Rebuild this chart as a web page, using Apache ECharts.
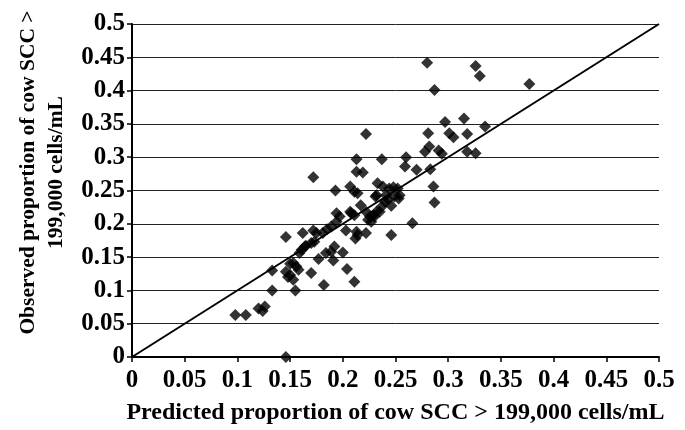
<!DOCTYPE html>
<html>
<head>
<meta charset="utf-8">
<script src="https://cdn.jsdelivr.net/npm/echarts@6/dist/echarts.min.js"></script>
<style>
  html, body { margin: 0; padding: 0; background: #fff; }
  #chart { width: 685px; height: 430px; }
</style>
</head>
<body>
<div id="chart"></div>
<script>
  // tick labels (0 .. 0.5 by 0.05)
  var tickStep = 0.05
  var axisMax = 0.5

  // predicted (x) vs observed (y)
  var predicted = [
    0.098, 0.108, 0.120, 0.126, 0.124, 0.133, 0.133, 0.146, 0.148, 0.150,
    0.153, 0.150, 0.153, 0.156, 0.158, 0.155, 0.146, 0.146, 0.159, 0.161,
    0.164, 0.170, 0.173, 0.165, 0.177, 0.170, 0.182, 0.184, 0.189, 0.192,
    0.200, 0.191, 0.204, 0.211, 0.162, 0.172, 0.175, 0.181, 0.185, 0.203,
    0.213, 0.214, 0.222, 0.246, 0.212, 0.189, 0.194, 0.194, 0.197, 0.207,
    0.211, 0.208, 0.217, 0.222, 0.226, 0.230, 0.227, 0.235, 0.224, 0.229,
    0.232, 0.237, 0.240, 0.246, 0.232, 0.241, 0.231, 0.243, 0.233, 0.238,
    0.244, 0.252, 0.254, 0.249, 0.253, 0.193, 0.207, 0.211, 0.214, 0.172,
    0.213, 0.219, 0.213, 0.237, 0.222, 0.260, 0.259, 0.270, 0.283, 0.286,
    0.287, 0.266, 0.278, 0.282, 0.291, 0.294, 0.318, 0.326, 0.281, 0.301,
    0.305, 0.318, 0.297, 0.315, 0.335, 0.287, 0.280, 0.326, 0.330, 0.377,
    0.248
  ]
  var observed = [
    0.063, 0.063, 0.073, 0.076, 0.069, 0.130, 0.100, 0.128, 0.120, 0.123,
    0.116, 0.140, 0.141, 0.136, 0.131, 0.100, 0.000, 0.180, 0.156, 0.161,
    0.166, 0.171, 0.173, 0.167, 0.147, 0.126, 0.108, 0.156, 0.158, 0.166,
    0.157, 0.145, 0.132, 0.113, 0.186, 0.190, 0.186, 0.186, 0.192, 0.190,
    0.188, 0.183, 0.186, 0.183, 0.178, 0.196, 0.203, 0.216, 0.211, 0.218,
    0.213, 0.216, 0.228, 0.218, 0.211, 0.211, 0.203, 0.218, 0.206, 0.213,
    0.218, 0.226, 0.233, 0.227, 0.243, 0.243, 0.241, 0.236, 0.261, 0.256,
    0.253, 0.253, 0.243, 0.241, 0.238, 0.250, 0.256, 0.248, 0.246, 0.270,
    0.278, 0.277, 0.297, 0.297, 0.335, 0.300, 0.286, 0.281, 0.282, 0.256,
    0.232, 0.201, 0.308, 0.316, 0.310, 0.305, 0.308, 0.306, 0.336, 0.336,
    0.330, 0.335, 0.353, 0.358, 0.346, 0.401, 0.442, 0.437, 0.422, 0.410,
    0.255
  ]

  var points = predicted.map(function (x, i) { return [x, observed[i]] })
  var identity = [[0, 0], [axisMax, axisMax]]

  var font = "'Liberation Serif', 'Times New Roman', serif"

  function tickLabel (v) {
    return String(Math.round(v * 100) / 100)
  }

  var chart = echarts.init(document.getElementById('chart'))
  chart.setOption({
    animation: false,
    grid: { left: 132, right: 26, top: 24, bottom: 73, outerBoundsMode: 'none', containLabel: false },
    xAxis: {
      type: 'value',
      min: 0,
      max: axisMax,
      interval: tickStep,
      name: 'Predicted proportion of cow SCC > 199,000 cells/mL',
      nameLocation: 'middle',
      nameGap: 44,
      nameTextStyle: { fontFamily: font, fontWeight: 'bold', fontSize: 24, color: '#000' },
      axisLine: { onZero: false, lineStyle: { color: '#000', width: 2 } },
      axisTick: { show: true, length: 5, lineStyle: { color: '#000', width: 1.5 } },
      axisLabel: {
        formatter: tickLabel, margin: 11,
        fontFamily: font, fontWeight: 'bold', fontSize: 25, color: '#000'
      },
      splitLine: { show: false }
    },
    yAxis: {
      type: 'value',
      min: 0,
      max: axisMax,
      interval: tickStep,
      name: 'Observed proportion of cow SCC >\n199,000 cells/mL',
      nameLocation: 'middle',
      nameGap: 62,
      nameTextStyle: {
        fontFamily: font, fontWeight: 'bold', fontSize: 21.5, color: '#000',
        lineHeight: 28, align: 'center', padding: [0, 0, 0, 36]
      },
      axisLine: { onZero: false, lineStyle: { color: '#000', width: 2 } },
      axisTick: { show: true, length: 5, lineStyle: { color: '#000', width: 1.5 } },
      axisLabel: {
        formatter: tickLabel, margin: 7,
        fontFamily: font, fontWeight: 'bold', fontSize: 25, color: '#000'
      },
      splitLine: { show: true, lineStyle: { color: '#222', width: 1 } }
    },
    series: [
      {
        type: 'line',
        data: identity,
        symbol: 'none',
        lineStyle: { color: '#000', width: 2 },
        z: 3
      },
      {
        type: 'scatter',
        data: points,
        symbol: 'diamond',
        symbolSize: 12,
        itemStyle: { color: '#000' },
        z: 4
      }
    ]
  })
</script>
</body>
</html>
